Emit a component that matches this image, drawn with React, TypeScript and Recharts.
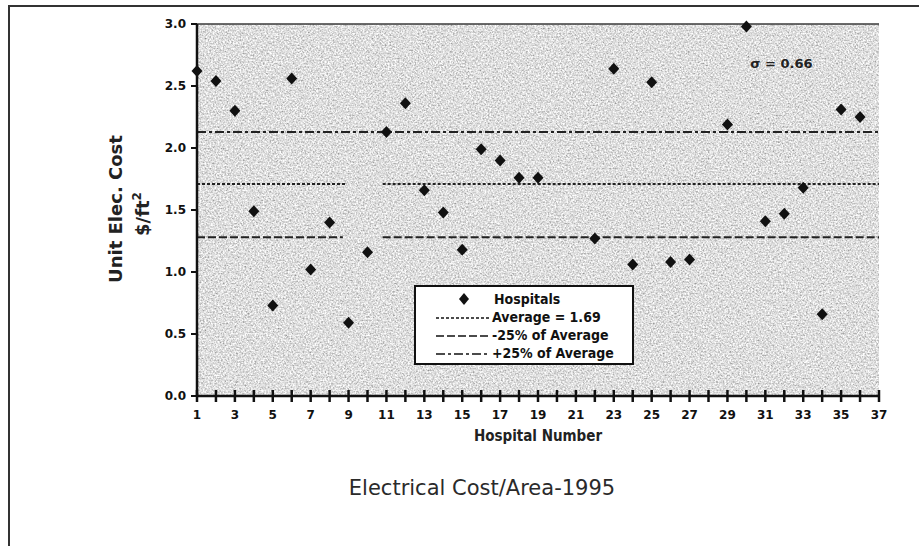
import React from 'react';
import {
  ComposedChart, Scatter, XAxis, YAxis, ReferenceLine, ReferenceArea, ReferenceDot, Legend
} from 'recharts';

// hospital number / unit electrical cost ($/ft2)
const hospitals = [1, 2, 3, 4, 5, 6, 7, 8, 9, 10, 11, 12, 13, 14, 15, 16, 17, 18, 19, 22, 23, 24, 25, 26, 27, 29, 30, 31, 32, 33, 34, 35, 36];
const unitCost = [2.62, 2.54, 2.30, 1.49, 0.73, 2.56, 1.02, 1.40, 0.59, 1.16, 2.13, 2.36, 1.66, 1.48, 1.18, 1.99, 1.90, 1.76, 1.76, 1.27, 2.64, 1.06, 2.53, 1.08, 1.10, 2.19, 2.98, 1.41, 1.47, 1.68, 0.66, 2.31, 2.25];

const xTicks = [1, 2, 3, 4, 5, 6, 7, 8, 9, 10, 11, 12, 13, 14, 15, 16, 17, 18, 19, 20, 21, 22, 23, 24, 25, 26, 27, 28, 29, 30, 31, 32, 33, 34, 35, 36, 37];
const yTicks = [0, 0.5, 1.0, 1.5, 2.0, 2.5, 3.0];

// level lines as drawn (the legend states the average as 1.69)
const averageLevel = 1.71;
const minusLevel = 1.28;
const plusLevel = 2.13;
const averageSpans = [[1, 8.9], [10.8, 37]];
const minusSpans = [[1, 8.7], [10.8, 37]];
const plusSpans = [[1, 37]];

const legendItems = [
  { label: 'Hospitals', kind: 'marker', dash: '' },
  { label: 'Average = 1.69', kind: 'line', dash: '3 2' },
  { label: '-25% of Average', kind: 'line', dash: '8 3' },
  { label: '+25% of Average', kind: 'line', dash: '9 3 3 3' },
];

const sigmaText = 'σ = 0.66';

const data = hospitals.map((h, i) => ({ hospital: h, cost: unitCost[i] }));

const INK = '#111';
const TICK_FONT = { fontFamily: 'DejaVu Sans', fontSize: 12, fontWeight: 'bold' as const, fill: INK };

const Diamond = (props: any) => {
  const { cx, cy } = props;
  if (cx == null || cy == null) return null;
  return <path d={`M${cx},${cy - 6} L${cx + 5.5},${cy} L${cx},${cy + 6} L${cx - 5.5},${cy} Z`} fill={INK} />;
};

const XTick = (props: any) => {
  const { x, y, payload } = props;
  const odd = payload.value % 2 === 1;
  return (
    <g>
      <line x1={x} x2={x} y1={y - 6} y2={y + 6} stroke={INK} strokeWidth={2.5} />
      {odd && (
        <text x={x} y={y + 23} textAnchor="middle" {...TICK_FONT}>{payload.value}</text>
      )}
    </g>
  );
};

const YLabel = (props: any) => {
  const vb = props.viewBox;
  const cy = vb.y + vb.height / 2;
  const font = { fontFamily: 'DejaVu Sans', fontSize: 18, fontWeight: 'bold' as const, fill: '#222' };
  return (
    <g>
      <text transform={`translate(${vb.x + 42}, ${cy - 1}) rotate(-90)`} textAnchor="middle" {...font}>Unit Elec. Cost</text>
      <text transform={`translate(${vb.x + 69}, ${cy + 4}) rotate(-90)`} textAnchor="middle" {...font}>
        $/ft<tspan dy={-8} fontSize={12}>2</tspan>
      </text>
    </g>
  );
};

const XLabel = (props: any) => {
  const vb = props.viewBox;
  return (
    <text x={vb.x + vb.width / 2} y={vb.y + 45} textAnchor="middle"
      fontFamily="DejaVu Sans Condensed" fontSize={15} fontWeight="bold" fill="#222">
      Hospital Number
    </text>
  );
};

const LegendBox = () => (
  <div style={{
    background: '#fff', border: '2px solid #111', width: 220, height: 80, boxSizing: 'border-box',
    padding: '3px 0 0 0', fontFamily: 'DejaVu Sans Condensed', fontSize: 14, fontWeight: 'bold', color: '#111'
  }}>
    {legendItems.map((it) => (
      <div key={it.label} style={{ display: 'flex', alignItems: 'center', height: 18 }}>
        <svg width={76} height={18} style={{ flex: 'none' }}>
          {it.kind === 'marker'
            ? <path d="M48,3 L53,9 L48,15 L43,9 Z" fill={INK} />
            : <line x1={20} x2={74} y1={10} y2={10} stroke={INK} strokeWidth={1.7} strokeDasharray={it.dash} />}
        </svg>
        <span style={{ marginLeft: it.kind === 'marker' ? 2 : 0, whiteSpace: 'nowrap' }}>{it.label}</span>
      </div>
    ))}
  </div>
);

const spanLines = (level: number, spans: number[][], dash: string, key: string) =>
  spans.map(([a, b], i) => (
    <ReferenceLine key={`${key}-${i}`} segment={[{ x: a, y: level }, { x: b, y: level }]}
      stroke="#222" strokeWidth={2} strokeDasharray={dash} ifOverflow="extendDomain" />
  ));

export default function App() {
  return (
    <div style={{ position: 'absolute', left: 0, top: 0, width: 919, height: 546, background: '#fff' }}>
      <div style={{
        position: 'absolute', left: 8, top: 5, width: 911, height: 541,
        borderTop: '2px solid #333', borderLeft: '2px solid #333'
      }} />
      <ComposedChart width={919} height={546} data={data}
        margin={{ top: 24, right: 40, left: 80, bottom: 90 }}>
        <defs>
          <filter id="paperGrain" x="0" y="0" width="1" height="1">
            <feTurbulence type="fractalNoise" baseFrequency="0.6" numOctaves="3" seed="7" result="noise" />
            <feColorMatrix in="noise" type="matrix"
              values="1.1 0 0 0 0.18  1.1 0 0 0 0.18  1.1 0 0 0 0.18  0 0 0 0 1" />
          </filter>
        </defs>
        <ReferenceArea x1={1} x2={37} y1={0} y2={3} ifOverflow="extendDomain"
          shape={(p: any) => (
            <rect x={p.x} y={p.y} width={p.width} height={p.height} fill="#bdbdbd" filter="url(#paperGrain)" />
          )} />
        <XAxis type="number" dataKey="hospital" domain={[1, 37]} ticks={xTicks} interval={0}
          allowDecimals={false} stroke={INK} strokeWidth={2.5} tickLine={false} tickSize={0} tickMargin={0}
          height={60} tick={<XTick />} label={{ content: (p: any) => <XLabel {...p} /> }} />
        <YAxis type="number" dataKey="cost" domain={[0, 3]} ticks={yTicks} interval={0}
          stroke={INK} strokeWidth={2.5} tickSize={6} tickMargin={5} width={117}
          tickFormatter={(v: number) => v.toFixed(1)} tick={TICK_FONT}
          tickLine={{ stroke: INK, strokeWidth: 2 }}
          label={{ content: (p: any) => <YLabel {...p} /> }} />
        <ReferenceLine y={3} stroke="#3a3a3a" strokeWidth={1.5} />
        {spanLines(plusLevel, plusSpans, '9 3 3 3', 'plus')}
        {spanLines(averageLevel, averageSpans, '3 2', 'avg')}
        {spanLines(minusLevel, minusSpans, '8 3', 'minus')}
        <ReferenceDot x={31.85} y={2.685} r={0} fill="none" stroke="none"
          label={{ value: sigmaText, position: 'center', fontFamily: 'DejaVu Sans', fontSize: 13, fontWeight: 'bold', fill: '#222' }} />
        <Scatter dataKey="cost" fill={INK} shape={<Diamond />} isAnimationActive={false} legendType="diamond" />
        <Legend layout="vertical" align="center" verticalAlign="middle"
          wrapperStyle={{ left: 414, top: 285, width: 220 }} content={() => <LegendBox />} />
        <text x={482} y={495} textAnchor="middle" fontFamily="DejaVu Sans" fontSize={21} fill="#2a2a2a">
          Electrical Cost/Area-1995
        </text>
      </ComposedChart>
    </div>
  );
}
